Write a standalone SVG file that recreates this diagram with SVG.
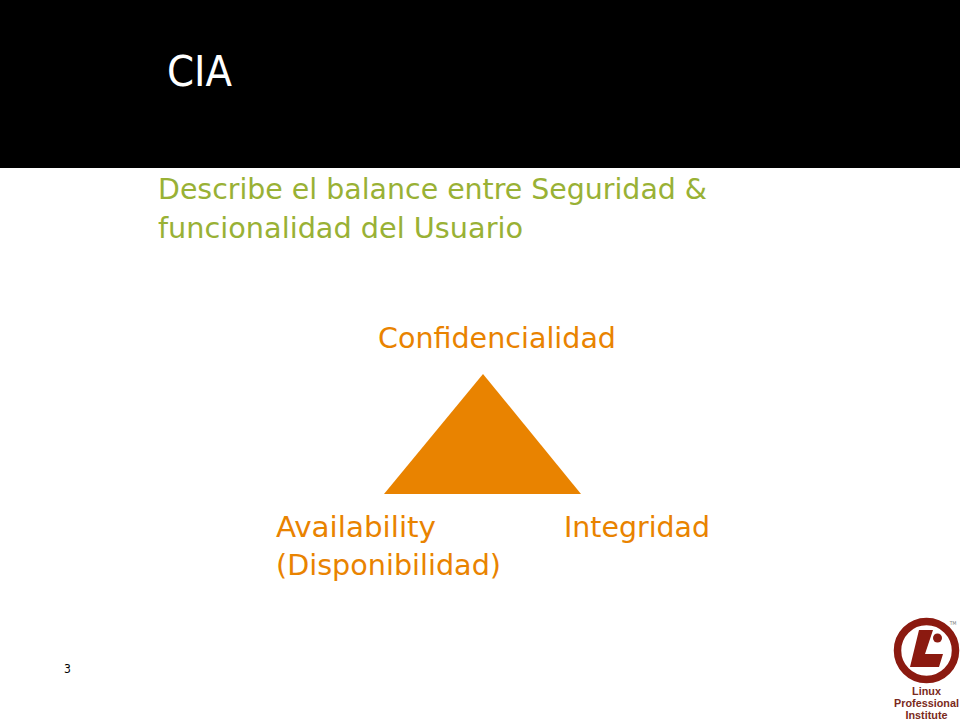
<svg xmlns="http://www.w3.org/2000/svg" width="960" height="720" viewBox="0 0 960 720">
<style>
text{font-family:"DejaVu Sans Condensed","DejaVu Sans","Noto Sans",sans-serif}
.g{font-size:28px;fill:#99b135}
.o{font-size:28px;fill:#e98300}
.l{font-family:"Liberation Sans",Arial,sans-serif;font-weight:bold;font-size:10.8px;fill:#7a2a20;text-anchor:middle}
</style>
<rect width="960" height="720" fill="#fff"/>
<rect id="header" width="960" height="168" fill="#000"/>
<text x="167" y="86" font-size="42" fill="#fff" textLength="65" lengthAdjust="spacingAndGlyphs">CIA</text>
<g id="description">
<text class="g" x="158" y="199" textLength="549" lengthAdjust="spacingAndGlyphs">Describe el balance entre Seguridad &amp;</text>
<text class="g" x="158" y="238" textLength="365" lengthAdjust="spacingAndGlyphs">funcionalidad del Usuario</text>
</g>
<g id="triangle">
<polygon points="483,374 581,494 384,494" fill="#e98300"/>
</g>
<g id="confidencialidad"><text class="o" x="378" y="348" textLength="238" lengthAdjust="spacingAndGlyphs">Confidencialidad</text></g>
<g id="availability">
<text class="o" x="276" y="537" textLength="160" lengthAdjust="spacingAndGlyphs">Availability</text>
<text class="o" x="276" y="575" textLength="225" lengthAdjust="spacingAndGlyphs">(Disponibilidad)</text>
</g>
<g id="integridad"><text class="o" x="564" y="537" textLength="146" lengthAdjust="spacingAndGlyphs">Integridad</text></g>
<text x="64" y="673" font-size="12" fill="#000">3</text>
<g id="logo">
<circle cx="926.5" cy="650.5" r="29" fill="none" stroke="#8b1a10" stroke-width="7.5"/>
<path d="M919,630 L933,630 L925,654 L943,654 L939,667 L910,667 Z" fill="#8b1a10"/>
<circle cx="937.5" cy="638" r="4.5" fill="#8b1a10"/>
<text x="953" y="625" font-family="Liberation Sans" font-size="5" fill="#777" text-anchor="middle">TM</text>
<text class="l" x="926.5" y="695">Linux</text>
<text class="l" x="926.5" y="707">Professional</text>
<text class="l" x="926.5" y="719">Institute</text>
</g>
</svg>
